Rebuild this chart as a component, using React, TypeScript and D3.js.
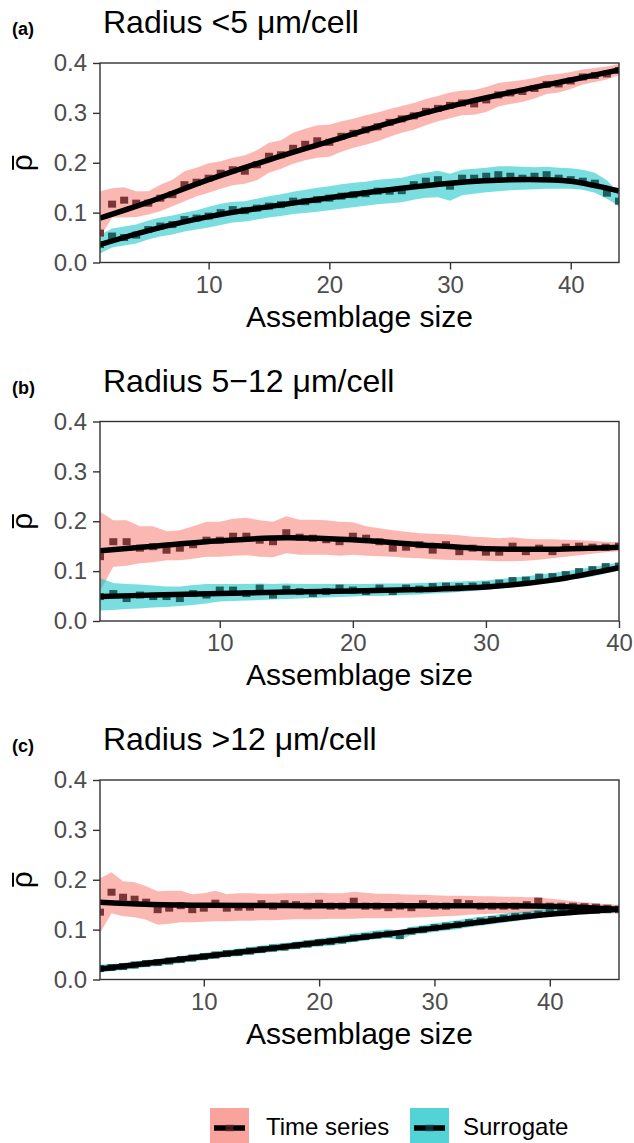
import React, { useEffect, useRef } from 'react';
import * as d3 from 'd3';

// panel (a): radius < 5
const aTs = [0.059, 0.117, 0.125, 0.119, 0.119, 0.129, 0.136, 0.156, 0.161, 0.169, 0.179, 0.186, 0.183, 0.196, 0.213, 0.216, 0.229, 0.237, 0.244, 0.241, 0.253, 0.259,
  0.266, 0.272, 0.281, 0.288, 0.294, 0.303, 0.309, 0.315, 0.320, 0.318, 0.326, 0.336, 0.340, 0.343, 0.349, 0.357, 0.358, 0.364, 0.372, 0.375, 0.378, 0.385];
const aTsHi = [0.143, 0.149, 0.151, 0.143, 0.143, 0.156, 0.166, 0.183, 0.190, 0.199, 0.203, 0.210, 0.215, 0.225, 0.240, 0.245, 0.260, 0.268, 0.275, 0.276, 0.283, 0.288,
  0.295, 0.301, 0.308, 0.314, 0.320, 0.328, 0.334, 0.341, 0.345, 0.346, 0.352, 0.360, 0.363, 0.366, 0.370, 0.376, 0.378, 0.382, 0.387, 0.390, 0.393, 0.398];
const aTsLo = [0.050, 0.090, 0.090, 0.091, 0.096, 0.103, 0.113, 0.123, 0.133, 0.140, 0.148, 0.155, 0.158, 0.165, 0.180, 0.188, 0.198, 0.205, 0.210, 0.212, 0.222, 0.230,
  0.236, 0.243, 0.252, 0.260, 0.266, 0.275, 0.283, 0.289, 0.295, 0.296, 0.302, 0.313, 0.318, 0.322, 0.329, 0.338, 0.341, 0.348, 0.357, 0.362, 0.367, 0.376];
const aSur = [0.036, 0.053, 0.050, 0.055, 0.066, 0.073, 0.076, 0.086, 0.089, 0.093, 0.100, 0.106, 0.104, 0.109, 0.113, 0.116, 0.123, 0.122, 0.126, 0.129, 0.133, 0.136,
  0.138, 0.143, 0.143, 0.144, 0.156, 0.163, 0.166, 0.153, 0.169, 0.169, 0.173, 0.176, 0.173, 0.169, 0.173, 0.176, 0.169, 0.166, 0.163, 0.159, 0.139, 0.123];
const aSurHi = [0.055, 0.068, 0.072, 0.076, 0.084, 0.090, 0.094, 0.100, 0.105, 0.112, 0.118, 0.122, 0.123, 0.128, 0.133, 0.137, 0.142, 0.146, 0.150, 0.153, 0.157, 0.160,
  0.162, 0.166, 0.168, 0.170, 0.176, 0.180, 0.184, 0.178, 0.186, 0.188, 0.190, 0.193, 0.193, 0.192, 0.191, 0.192, 0.190, 0.189, 0.186, 0.180, 0.165, 0.140];
const aSurLo = [0.018, 0.030, 0.034, 0.038, 0.046, 0.052, 0.056, 0.062, 0.066, 0.070, 0.075, 0.080, 0.082, 0.086, 0.090, 0.093, 0.097, 0.099, 0.102, 0.105, 0.108, 0.111,
  0.114, 0.117, 0.119, 0.121, 0.126, 0.130, 0.131, 0.124, 0.135, 0.138, 0.141, 0.143, 0.145, 0.146, 0.147, 0.148, 0.148, 0.148, 0.146, 0.140, 0.128, 0.113];
const aFitX = [1, 5, 10, 15, 20, 25, 30, 35, 40, 44];
const aTsFit = [0.089, 0.121, 0.166, 0.206, 0.243, 0.280, 0.313, 0.341, 0.366, 0.386];
const aSurFit = [0.036, 0.064, 0.092, 0.112, 0.130, 0.146, 0.159, 0.166, 0.163, 0.143];

// panel (b): radius 5-12
const bTs = [0.129, 0.159, 0.159, 0.146, 0.149, 0.142, 0.146, 0.153, 0.162, 0.162, 0.170, 0.170, 0.162, 0.159, 0.177, 0.168, 0.166, 0.163, 0.159, 0.170,
  0.166, 0.159, 0.146, 0.148, 0.153, 0.142, 0.153, 0.139, 0.146, 0.138, 0.138, 0.150, 0.139, 0.146, 0.139, 0.148, 0.150, 0.148, 0.148, 0.150];
const bTsHi = [0.219, 0.202, 0.202, 0.190, 0.190, 0.180, 0.182, 0.190, 0.199, 0.199, 0.205, 0.207, 0.202, 0.199, 0.210, 0.203, 0.203, 0.202, 0.199, 0.198,
  0.190, 0.186, 0.182, 0.179, 0.176, 0.175, 0.174, 0.172, 0.169, 0.168, 0.166, 0.168, 0.165, 0.164, 0.164, 0.163, 0.162, 0.161, 0.159, 0.158];
const bTsLo = [0.060, 0.109, 0.111, 0.116, 0.118, 0.122, 0.122, 0.125, 0.129, 0.129, 0.131, 0.132, 0.129, 0.128, 0.136, 0.133, 0.133, 0.133, 0.131, 0.133,
  0.131, 0.130, 0.129, 0.127, 0.126, 0.124, 0.123, 0.122, 0.122, 0.121, 0.120, 0.120, 0.121, 0.123, 0.126, 0.129, 0.132, 0.135, 0.138, 0.140];
const bSur = [0.049, 0.055, 0.045, 0.052, 0.049, 0.049, 0.045, 0.055, 0.052, 0.062, 0.062, 0.055, 0.066, 0.052, 0.064, 0.059, 0.055, 0.059, 0.066, 0.062,
  0.059, 0.066, 0.059, 0.066, 0.064, 0.069, 0.070, 0.069, 0.070, 0.072, 0.076, 0.081, 0.082, 0.088, 0.089, 0.093, 0.099, 0.103, 0.109, 0.110];
const bSurHi = [0.086, 0.076, 0.074, 0.073, 0.071, 0.069, 0.069, 0.072, 0.074, 0.074, 0.074, 0.074, 0.075, 0.074, 0.075, 0.074, 0.074, 0.074, 0.074, 0.074,
  0.074, 0.075, 0.075, 0.075, 0.076, 0.077, 0.078, 0.079, 0.080, 0.081, 0.084, 0.087, 0.089, 0.093, 0.096, 0.100, 0.104, 0.108, 0.113, 0.118];
const bSurLo = [0.021, 0.022, 0.024, 0.025, 0.027, 0.028, 0.030, 0.032, 0.035, 0.039, 0.040, 0.041, 0.042, 0.043, 0.044, 0.045, 0.046, 0.047, 0.048, 0.049,
  0.050, 0.050, 0.051, 0.052, 0.053, 0.055, 0.056, 0.058, 0.060, 0.062, 0.065, 0.068, 0.071, 0.074, 0.077, 0.081, 0.085, 0.089, 0.095, 0.101];
const bFitX = [1, 5, 10, 15, 20, 25, 30, 35, 40];
const bTsFit = [0.141, 0.150, 0.161, 0.167, 0.163, 0.153, 0.145, 0.144, 0.148];
const bSurFit = [0.049, 0.052, 0.055, 0.058, 0.060, 0.063, 0.068, 0.082, 0.107];

// panel (c): radius > 12
const cTs = [0.135, 0.175, 0.165, 0.161, 0.155, 0.140, 0.143, 0.148, 0.140, 0.143, 0.153, 0.143, 0.145, 0.145, 0.152, 0.147, 0.152, 0.150, 0.147, 0.153, 0.147, 0.147, 0.157,
  0.147, 0.147, 0.144, 0.147, 0.144, 0.152, 0.147, 0.147, 0.154, 0.152, 0.147, 0.147, 0.147, 0.147, 0.150, 0.157, 0.147, 0.147, 0.147, 0.146, 0.145, 0.143, 0.140];
const cTsHi = [0.203, 0.215, 0.197, 0.195, 0.187, 0.177, 0.178, 0.178, 0.171, 0.173, 0.178, 0.171, 0.173, 0.173, 0.172, 0.172, 0.173, 0.173, 0.173, 0.174, 0.173, 0.173, 0.176,
  0.174, 0.172, 0.172, 0.171, 0.170, 0.170, 0.169, 0.168, 0.168, 0.168, 0.167, 0.167, 0.166, 0.166, 0.165, 0.165, 0.162, 0.160, 0.157, 0.155, 0.153, 0.151, 0.150];
const cTsLo = [0.093, 0.133, 0.127, 0.125, 0.120, 0.110, 0.112, 0.115, 0.115, 0.116, 0.117, 0.117, 0.118, 0.118, 0.119, 0.119, 0.120, 0.121, 0.121, 0.121, 0.122, 0.122, 0.122,
  0.123, 0.123, 0.123, 0.124, 0.124, 0.125, 0.126, 0.127, 0.128, 0.130, 0.131, 0.132, 0.133, 0.133, 0.134, 0.134, 0.134, 0.134, 0.134, 0.134, 0.133, 0.133, 0.133];
const cSur = [0.022, 0.024, 0.026, 0.029, 0.032, 0.034, 0.037, 0.040, 0.043, 0.046, 0.049, 0.052, 0.054, 0.057, 0.060, 0.063, 0.065, 0.068, 0.071, 0.074, 0.076, 0.079, 0.083,
  0.086, 0.089, 0.091, 0.088, 0.097, 0.100, 0.104, 0.107, 0.110, 0.114, 0.117, 0.120, 0.123, 0.126, 0.128, 0.131, 0.134, 0.136, 0.137, 0.139, 0.139, 0.140, 0.141];
const cSurHi = [0.030, 0.031, 0.033, 0.036, 0.039, 0.041, 0.044, 0.047, 0.050, 0.053, 0.056, 0.059, 0.062, 0.065, 0.068, 0.071, 0.073, 0.076, 0.079, 0.082, 0.085, 0.088, 0.092,
  0.095, 0.098, 0.101, 0.098, 0.106, 0.109, 0.113, 0.116, 0.119, 0.123, 0.126, 0.129, 0.132, 0.135, 0.137, 0.140, 0.142, 0.143, 0.144, 0.145, 0.145, 0.145, 0.146];
const cSurLo = [0.014, 0.017, 0.019, 0.022, 0.025, 0.027, 0.030, 0.033, 0.036, 0.039, 0.042, 0.045, 0.047, 0.050, 0.053, 0.055, 0.058, 0.061, 0.064, 0.066, 0.068, 0.071, 0.075,
  0.078, 0.081, 0.083, 0.080, 0.089, 0.092, 0.095, 0.098, 0.101, 0.105, 0.108, 0.111, 0.114, 0.117, 0.120, 0.123, 0.126, 0.129, 0.131, 0.133, 0.134, 0.135, 0.136];
const cTsFitX = [1, 5, 10, 20, 30, 40, 46];
const cTsFit = [0.155, 0.151, 0.149, 0.148, 0.148, 0.147, 0.141];
const cSurFitX = [1, 10, 20, 30, 36, 40, 46];
const cSurFit = [0.021, 0.046, 0.074, 0.103, 0.121, 0.131, 0.141];

const xTicks = [10, 20, 30, 40];
const yTicks = [0, 0.1, 0.2, 0.3, 0.4];
const seriesNames = ['Time series', 'Surrogate'];

const FONT = '"Liberation Sans", Arial, Helvetica, sans-serif';
const RIBBON = ['#F8766D', '#00BFC4'];
const POINT = ['#7a3636', '#1b5f60'];

const W = 634;
const H = 1143;
const left = 100;
const right = 619;
const plotH = 199.5;

const panels = [
  {
    tag: '(a)', title: 'Radius <5 \u03bcm/cell', top: 63, xMax: 44,
    series: [
      { mean: aTs, lo: aTsLo, hi: aTsHi, fitX: aFitX, fit: aTsFit },
      { mean: aSur, lo: aSurLo, hi: aSurHi, fitX: aFitX, fit: aSurFit },
    ],
  },
  {
    tag: '(b)', title: 'Radius 5\u221212 \u03bcm/cell', top: 421.5, xMax: 40,
    series: [
      { mean: bTs, lo: bTsLo, hi: bTsHi, fitX: bFitX, fit: bTsFit },
      { mean: bSur, lo: bSurLo, hi: bSurHi, fitX: bFitX, fit: bSurFit },
    ],
  },
  {
    tag: '(c)', title: 'Radius >12 \u03bcm/cell', top: 780, xMax: 46,
    series: [
      { mean: cTs, lo: cTsLo, hi: cTsHi, fitX: cTsFitX, fit: cTsFit },
      { mean: cSur, lo: cSurLo, hi: cSurHi, fitX: cSurFitX, fit: cSurFit },
    ],
  },
];

function drawPanel(svg, p, i) {
  const x = d3.scaleLinear().domain([1, p.xMax]).range([left, right]);
  const y = d3.scaleLinear().domain([0, 0.4]).range([p.top + plotH, p.top]);
  const bottom = p.top + plotH;

  svg.append('text')
    .attr('x', 12).attr('y', p.top - 28)
    .attr('font-family', FONT).attr('font-size', 18).attr('font-weight', 'bold')
    .text(p.tag);

  svg.append('text')
    .attr('x', 103).attr('y', p.top - 30)
    .attr('font-family', FONT).attr('font-size', 32)
    .text(p.title);

  const clipId = `clip-${i}`;
  svg.append('defs').append('clipPath').attr('id', clipId)
    .append('rect')
    .attr('x', left).attr('y', p.top)
    .attr('width', right - left).attr('height', plotH);

  const main = svg.append('g').attr('clip-path', `url(#${clipId})`);

  // ribbons
  p.series.forEach((s, k) => {
    const area = d3.area()
      .x((d, j) => x(j + 1))
      .y0((d, j) => y(s.lo[j]))
      .y1((d, j) => y(s.hi[j]));
    main.append('path')
      .datum(s.mean)
      .attr('d', area)
      .attr('fill', RIBBON[k])
      .attr('fill-opacity', 0.52);
  });

  // points
  p.series.forEach((s, k) => {
    main.append('g').selectAll('rect')
      .data(s.mean)
      .enter().append('rect')
      .attr('x', (d, j) => x(j + 1) - 4)
      .attr('y', d => y(d) - 3.5)
      .attr('width', 8)
      .attr('height', 7)
      .attr('fill', POINT[k]);
  });

  // smooth fits
  p.series.forEach((s) => {
    const line = d3.line()
      .x((d, j) => x(s.fitX[j]))
      .y(d => y(d))
      .curve(d3.curveCatmullRom.alpha(0.5));
    main.append('path')
      .datum(s.fit)
      .attr('d', line)
      .attr('fill', 'none')
      .attr('stroke', '#000')
      .attr('stroke-width', 5.5);
  });

  // axes
  const xAxis = svg.append('g')
    .attr('transform', `translate(0, ${bottom})`)
    .call(d3.axisBottom(x).tickValues(xTicks).tickSize(7).tickSizeOuter(0).tickPadding(6));
  const yAxis = svg.append('g')
    .attr('transform', `translate(${left}, 0)`)
    .call(d3.axisLeft(y).tickValues(yTicks).tickFormat(d3.format('.1f')).tickSize(7).tickSizeOuter(0).tickPadding(6));

  [xAxis, yAxis].forEach(ax => {
    ax.select('.domain').remove();
    ax.selectAll('line').attr('stroke', '#333').attr('stroke-width', 1.4);
    ax.selectAll('text')
      .attr('font-family', FONT)
      .attr('font-size', 24)
      .attr('fill', '#4d4d4d');
  });

  svg.append('rect')
    .attr('x', left).attr('y', p.top)
    .attr('width', right - left).attr('height', plotH)
    .attr('fill', 'none')
    .attr('stroke', '#333')
    .attr('stroke-width', 1.4);

  svg.append('text')
    .attr('x', (left + right) / 2).attr('y', bottom + 64)
    .attr('text-anchor', 'middle')
    .attr('font-family', FONT).attr('font-size', 30)
    .text('Assemblage size');

  // rho with an overbar, rotated
  const lab = svg.append('g')
    .attr('transform', `translate(32, ${p.top + plotH / 2}) rotate(-90)`);
  lab.append('text')
    .attr('text-anchor', 'middle')
    .attr('font-family', FONT).attr('font-size', 30)
    .text('\u03c1');
  lab.append('line')
    .attr('x1', -7).attr('x2', 7)
    .attr('y1', -19).attr('y2', -19)
    .attr('stroke', '#000').attr('stroke-width', 2);
}

function drawLegend(svg) {
  const keyX = [210, 410];
  const textX = [266, 463];
  seriesNames.forEach((name, k) => {
    const g = svg.append('g');
    g.append('rect')
      .attr('x', keyX[k]).attr('y', 1108)
      .attr('width', 39).attr('height', 40)
      .attr('fill', RIBBON[k]).attr('fill-opacity', 0.68);
    g.append('line')
      .attr('x1', keyX[k] + 4).attr('x2', keyX[k] + 35)
      .attr('y1', 1128).attr('y2', 1128)
      .attr('stroke', '#000').attr('stroke-width', 5.5);
    g.append('rect')
      .attr('x', keyX[k] + 15.5).attr('y', 1124.5)
      .attr('width', 8).attr('height', 7)
      .attr('fill', POINT[k]).attr('fill-opacity', 0.5);
    g.append('text')
      .attr('x', textX[k]).attr('y', 1135)
      .attr('font-family', FONT).attr('font-size', 24)
      .text(name);
  });
}

export default function App() {
  const ref = useRef(null);

  useEffect(() => {
    const svg = d3.select(ref.current);
    svg.selectAll('*').remove();
    svg.append('rect').attr('width', W).attr('height', H).attr('fill', '#fff');
    panels.forEach((p, i) => drawPanel(svg, p, i));
    drawLegend(svg);
  }, []);

  return (
    <svg
      ref={ref}
      width={W}
      height={H}
      style={{ position: 'absolute', left: 0, top: 0 }}
    />
  );
}
